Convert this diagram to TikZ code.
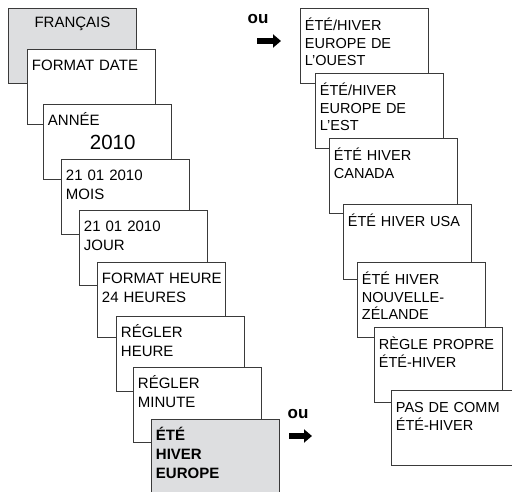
\documentclass[tikz,border=0pt]{standalone}
\usepackage{fontspec}
\setmainfont{Liberation Sans}
\usetikzlibrary{positioning,arrows.meta}
\definecolor{panelgray}{RGB}{221,222,224}
\definecolor{framegray}{RGB}{58,58,58}

\begin{document}
\begin{tikzpicture}[
	x=1pt, y=-1pt,
	menubox/.style={draw=framegray,fill=white,line width=0.9pt,anchor=north west,text width=119pt,inner xsep=4.5pt,inner ysep=4pt,align=left,text height=17pt,text depth=50pt,font=\fontsize{15}{19}\selectfont},
	seasonbox/.style={menubox,text height=18.5pt,text depth=48.5pt,font=\fontsize{14.5}{17.5}\selectfont},
	ornode/.style={font=\bfseries\fontsize{17}{20}\selectfont,anchor=base},
	orarrow/.style={line width=6.5pt,-{Triangle[length=8pt,width=13pt]}}
	]
	\useasboundingbox (0,0) rectangle (512,492);
	% left column: setup menu
	\node[menubox,fill=panelgray,align=center,text height=15.5pt,text depth=51.5pt] (francais) at (8,8) {FRANÇAIS};
	\node[menubox,below right=41pt and 19pt of francais.north west] (fdate) {FORMAT DATE};
	\node[menubox,below right=55pt and 16pt of fdate.north west] (annee)
		{ANNÉE\\[5.5pt]\hspace*{42pt}{\fontsize{20.5}{24}\selectfont 2010}};
	\node[menubox,below right=55pt and 18pt of annee.north west] (mois) {21 01 2010\\MOIS};
	\node[menubox,below right=51pt and 18pt of mois.north west] (jour) {21 01 2010\\JOUR};
	\node[menubox,below right=52pt and 18pt of jour.north west] (fheure) {FORMAT~HEURE\\24 HEURES};
	\node[menubox,below right=54pt and 19pt of fheure.north west] (rheure) {RÉGLER\\HEURE};
	\node[menubox,below right=51pt and 17pt of rheure.north west] (rminute) {RÉGLER\\MINUTE};
	\node[menubox,fill=panelgray,font=\bfseries\fontsize{15}{19}\selectfont,below right=52pt and 18pt of rminute.north west] (europe) {ÉTÉ\\HIVER\\EUROPE};
	% right column: summer/winter rules
	\node[seasonbox] (ouest) at (300,8) {ÉTÉ/HIVER\\EUROPE DE\\L'OUEST};
	\node[seasonbox,below right=65pt and 15pt of ouest.north west] (est) {ÉTÉ/HIVER\\EUROPE DE\\L'EST};
	\node[seasonbox,below right=65pt and 14pt of est.north west] (canada) {ÉTÉ HIVER\\CANADA};
	\node[seasonbox,below right=66pt and 14pt of canada.north west] (usa) {ÉTÉ HIVER USA};
	\node[seasonbox,below right=58pt and 14pt of usa.north west] (nz) {ÉTÉ HIVER\\NOUVELLE-\\ZÉLANDE};
	\node[seasonbox,below right=65pt and 17pt of nz.north west] (propre) {RÈGLE PROPRE\\ÉTÉ-HIVER};
	\node[seasonbox,below right=63pt and 17pt of propre.north west] (pascomm) {PAS DE COMM\\ÉTÉ-HIVER};
	% "ou" markers
	\node[ornode] (ou1) at (258,24) {ou};
	\coordinate (a1s) at (257,41);
	\coordinate (a1e) at (281,41);
	\draw[orarrow] (a1s) -- (a1e);
	\node[ornode] (ou2) at (298,418) {ou};
	\coordinate (a2s) at (289,436);
	\coordinate (a2e) at (312,436);
	\draw[orarrow] (a2s) -- (a2e);
\end{tikzpicture}
\end{document}
